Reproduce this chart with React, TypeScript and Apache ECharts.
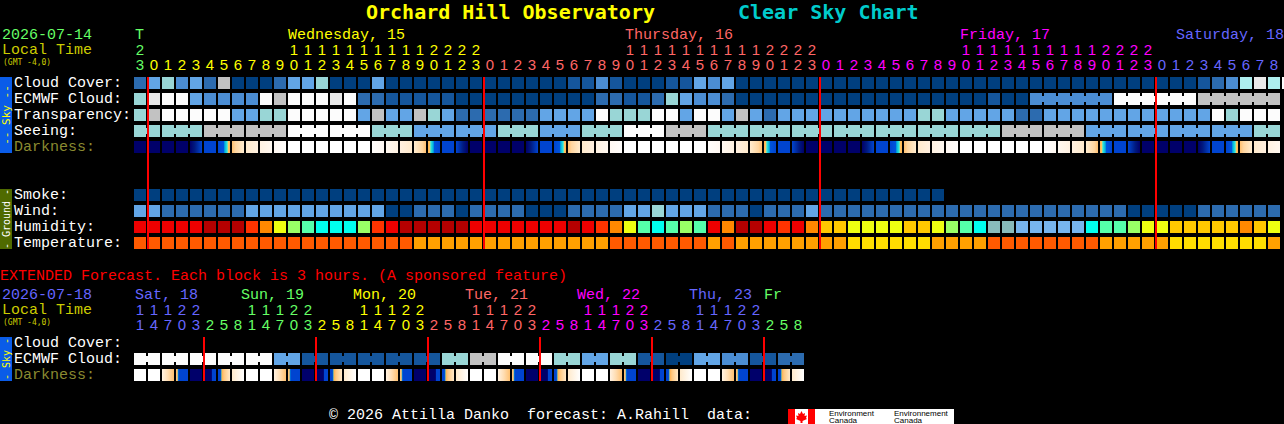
import React, { useEffect, useRef } from "react";
import * as echarts from "echarts";

const title = "Orchard Hill Observatory";
const subtitle = "Clear Sky Chart";
const footer = "© 2026 Attilla Danko  forecast: A.Rahill  data:";
const extendedNote = "EXTENDED Forecast. Each block is 3 hours. (A sponsored feature)";

const skyRows = ["Cloud Cover:", "ECMWF Cloud:", "Transparency:", "Seeing:", "Darkness:"];
const groundRows = ["Smoke:", "Wind:", "Humidity:", "Temperature:"];
const extendedRows = ["Cloud Cover:", "ECMWF Cloud:", "Darkness:"];

const hourOnes = ["3",
  "0","1","2","3","4","5","6","7","8","9","0","1","2","3","4","5","6","7","8","9","0","1","2","3",
  "0","1","2","3","4","5","6","7","8","9","0","1","2","3","4","5","6","7","8","9","0","1","2","3",
  "0","1","2","3","4","5","6","7","8","9","0","1","2","3","4","5","6","7","8","9","0","1","2","3",
  "0","1","2","3","4","5","6","7","8"];
const hourTens = ["2",
  "","","","","","","","","","","1","1","1","1","1","1","1","1","1","1","2","2","2","2",
  "","","","","","","","","","","1","1","1","1","1","1","1","1","1","1","2","2","2","2",
  "","","","","","","","","","","1","1","1","1","1","1","1","1","1","1","2","2","2","2",
  "","","","","","","","",""];
const hourDayColor = [0,
  1,1,1,1,1,1,1,1,1,1,1,1,1,1,1,1,1,1,1,1,1,1,1,1,
  2,2,2,2,2,2,2,2,2,2,2,2,2,2,2,2,2,2,2,2,2,2,2,2,
  3,3,3,3,3,3,3,3,3,3,3,3,3,3,3,3,3,3,3,3,3,3,3,3,
  4,4,4,4,4,4,4,4,4];

const extOnes = ["1","4","7","0","3","2","5","8","1","4","7","0","3","2","5","8","1","4","7","0","3","2","5","8",
  "1","4","7","0","3","2","5","8","1","4","7","0","3","2","5","8","1","4","7","0","3","2","5","8"];
const extTens = ["1","1","1","2","2","","","","1","1","1","2","2","","","","1","1","1","2","2","","","",
  "1","1","1","2","2","","","","1","1","1","2","2","","","","1","1","1","2","2","","",""];
const extDayColor = [4,4,4,4,4,0,0,0,0,0,0,0,0,1,1,1,1,1,1,1,1,2,2,2,2,2,2,2,2,3,3,3,3,3,3,3,3,4,4,4,4,4,4,4,4,0,0,0];

const dayPalette = ["#66ff66", "#ffff00", "#ff6666", "#ff00ff", "#6666ff"];

const mainDays = ["T", "Wednesday, 15", "Thursday, 16", "Friday, 17", "Saturday, 18"];
const extDays = ["Sat, 18", "Sun, 19", "Mon, 20", "Tue, 21", "Wed, 22", "Thu, 23", "Fr"];

// sky level per hour: 0 clear ... 9 overcast / best
const cloudCover = [2,4,5,3,4,2,7,0,0,0,2,4,4,5,0,0,0,4,0,0,0,
  0,0,0,0,0,0,0,0,0,0,1,1,3,1,0,0,0,1,1,4,3,4,
  0,0,0,0,0,0,0,0,0,0,0,0,0,0,0,0,0,0,0,0,0,0,0,0,0,0,0,0,0,0,0,0,
  0,1,2,3,6,8,6,9];
const ecmwfCloud = [5,8,9,9,4,3,3,3,3,9,7,9,9,9,8,9,2,2,1,1,1,1,1,
  0,0,0,0,0,0,0,0,0,0,2,2,1,1,2,5,4,3,3,2,
  0,0,0,0,0,0,0,0,0,0,0,0,0,0,0,0,0,0,1,0,0,
  3,3,3,3,3,3,9,9,9,9,9,9,7,7,7,7,7,7];
const transparency = [5,7,9,9,9,9,9,4,4,5,5,9,9,9,9,9,4,7,4,4,7,5,4,2,2,2,2,2,2,4,4,4,4,9,5,5,5,9,9,4,9,9,4,7,4,2,4,
  4,4,4,4,4,4,4,4,4,5,5,4,4,4,4,4,2,2,4,4,4,4,4,4,4,4,4,4,4,4,9,5,9,9,9];
const seeingBlocks = [5,5,7,7,9,9,5,4,4,5,4,5,9,7,5,5,5,5,5,5,5,7,7,4,4,4,4,5];
const seeingBlockHours = [2,3,3,3,3,3,3,3,3,3,3,3,3,3,3,3,3,3,3,3,3,3,3,3,3,3,3,2];
const darkness = ["n","n","n","n","u","b","t","o","k","l","m","w","w","w","w","w","w","M","L","K","O","T","b","U",
  "n","n","n","n","u","b","t","o","k","l","m","w","w","w","w","w","w","M","L","K","O","T","b","U",
  "n","n","n","n","u","b","t","o","k","l","m","w","w","w","w","w","w","M","L","K","O","T","b","U",
  "n","n","n","n","u","b","t","o","k","l"];
const smoke = new Array(58).fill(0);
const wind = [4,4,2,2,2,2,2,2,4,4,4,4,4,4,4,4,4,4,0,0,2,2,2,0,2,2,2,2,0,0,0,2,2,2,2,4,4,5,4,4,4,2,2,2,0,2,2,2,4,2,2,
  2,2,2,2,2,2,2,2,2,2,2,2,2,2,2,2,2,2,2,2,0,0,0,0,0,2,2,2,2,2,2];
const humidity = [1,1,1,1,1,0,0,0,2,3,5,6,7,8,8,8,6,2,1,0,0,0,0,0,1,1,1,1,1,1,1,0,1,2,3,5,7,8,7,6,7,1,3,0,0,1,2,1,3,4,4,
  5,5,5,5,4,4,5,6,7,8,9,9,10,10,10,10,10,8,7,7,6,5,5,4,4,4,4,4,3,4,5];
const temperature = [0,0,0,0,0,0,0,0,0,0,0,0,0,0,0,0,0,0,0,0,1,1,1,1,1,1,1,1,1,1,1,1,1,1,0,0,0,0,0,0,0,1,0,1,1,1,1,1,1,1,1,
  2,2,2,2,2,2,1,1,1,1,0,0,0,0,0,0,0,0,1,1,1,1,1,2,2,2,2,2,2,2,1];

const extEcmwfBlocks = [9,9,9,9,9,4,1,1,1,1,1,5,7,9,9,5,4,5,1,0,4,3,1,2];
const extDarkness = ["w","w","F","B","n","S","X","C","w","w","F","B","n","S","X","C","w","w","F","B","n","S","X","C",
  "w","w","F","B","n","S","X","C","w","w","F","B","n","S","X","C","w","w","F","B","n","S","X","C"];

const midnightCols = [1, 25, 49, 73];
const extMidnightCols = [5, 13, 21, 29, 37, 45];

const skyColors = ["#003f7f", "#15569c", "#2c6baf", "#4b8dd3", "#62a5e6", "#99d6d6", "#aeefef", "#c2c2c2", "#e9e9e9", "#fcfcfc"];
const humidityColors = ["#b50000", "#ee0000", "#ff3300", "#ff8800", "#ffc800", "#eeff11", "#99ff66", "#55ffaa", "#00ffee", "#88bbbb", "#77b5ee"];
const temperatureColors = ["#ff5a00", "#ffa000", "#ffdd00"];

const NAVY = "#00006a", BLUE = "#0044d0";
const darkStops: Record<string, [number, string][]> = {
  n: [[0, NAVY], [1, NAVY]],
  u: [[0, NAVY], [0.4, "#001a80"], [0.7, "#0030a8"], [1, BLUE]],
  b: [[0, BLUE], [1, BLUE]],
  t: [[0, BLUE], [0.5, "#0055dd"], [0.55, "#00aadd"], [0.78, "#33eedd"], [0.82, "#ffcc66"], [1, "#ffb050"]],
  o: [[0, "#ffc070"], [0.3, "#ffd6a0"], [1, "#ffeccf"]],
  k: [[0, "#ffeacc"], [1, "#fff0e0"]],
  l: [[0, "#fff2e2"], [1, "#fff8f0"]],
  m: [[0, "#fff8f2"], [1, "#fffdfb"]],
  w: [[0, "#ffffff"], [1, "#ffffff"]],
  F: [[0, "#fff2e2"], [0.5, "#ffdcb0"], [1, "#ffc070"]],
  B: [[0, "#ffc070"], [0.12, "#ffc070"], [0.14, "#00aadd"], [0.25, BLUE], [1, BLUE]],
  S: [[0, NAVY], [0.62, NAVY], [0.66, BLUE], [1, BLUE]],
  X: [[0, BLUE], [0.2, BLUE], [0.26, "#00aadd"], [0.32, "#ffb050"], [0.5, "#ffc880"], [1, "#ffe8c8"]],
  C: [[0, "#ffeacc"], [1, "#ffffff"]],
};
function darkFill(key: string) {
  const reversed = "UTOKLM".includes(key);
  const base = reversed ? darkStops[key.toLowerCase()] : darkStops[key];
  const stops = reversed ? base.map(([o, c]) => ({ offset: 1 - o, color: c })).reverse() : base.map(([o, c]) => ({ offset: o, color: c }));
  return new echarts.graphic.LinearGradient(0, 0, 1, 0, stops);
}

type Cell = { col: number; row: number; fill: any; bridge?: boolean };

function App() {
  const ref = useRef<HTMLDivElement>(null);
  useEffect(() => {
    document.body.style.margin = "0";
    document.body.style.background = "#000";
    document.body.style.overflow = "hidden";
    const chart = echarts.init(ref.current!, undefined, { renderer: "svg" });

    const MONO = "Liberation Mono";
    const HEAVY = "DejaVu Sans Mono";
    const DIGIT = "Liberation Sans";

    const topCells: Cell[] = [];
    cloudCover.forEach((v, i) => topCells.push({ col: i, row: 0, fill: skyColors[v] }));
    ecmwfCloud.forEach((v, i) => topCells.push({ col: i, row: 1, fill: skyColors[v], bridge: i >= 64 && i < 81 && ecmwfCloud[i + 1] === v }));
    transparency.forEach((v, i) => topCells.push({ col: i, row: 2, fill: skyColors[v] }));
    let c = 0;
    seeingBlocks.forEach((v, b) => {
      for (let k = 0; k < seeingBlockHours[b]; k++) {
        topCells.push({ col: c, row: 3, fill: skyColors[v], bridge: k < seeingBlockHours[b] - 1 });
        c++;
      }
    });
    darkness.forEach((v, i) => topCells.push({ col: i, row: 4, fill: darkFill(v) }));

    const groundCells: Cell[] = [];
    smoke.forEach((v, i) => groundCells.push({ col: i, row: 0, fill: skyColors[v] }));
    wind.forEach((v, i) => groundCells.push({ col: i, row: 1, fill: skyColors[v] }));
    humidity.forEach((v, i) => groundCells.push({ col: i, row: 2, fill: humidityColors[v] }));
    temperature.forEach((v, i) => groundCells.push({ col: i, row: 3, fill: temperatureColors[v] }));

    const extCells: Cell[] = [];
    extEcmwfBlocks.forEach((v, b) => {
      extCells.push({ col: b * 2, row: 1, fill: skyColors[v], bridge: true });
      extCells.push({ col: b * 2 + 1, row: 1, fill: skyColors[v] });
    });
    extDarkness.forEach((v, i) => extCells.push({ col: i, row: 2, fill: darkFill(v) }));

    const cellSeries = (cells: Cell[], idx: number) => ({
      type: "custom",
      coordinateSystem: "cartesian2d",
      xAxisIndex: idx,
      yAxisIndex: idx,
      clip: false,
      silent: true,
      encode: { x: 0, y: 1 },
      data: cells.map((d) => [d.col, d.row]),
      renderItem: (params: any, api: any) => {
        const d = cells[params.dataIndex];
        const [x, y] = api.coord([d.col, d.row]);
        const children: any[] = [
          { type: "rect", shape: { x: x - 6, y: y - 6, width: 12, height: 12 }, style: { fill: d.fill } },
        ];
        if (d.bridge) {
          children.push({ type: "rect", shape: { x: x + 6, y: y - 3, width: 2, height: 6 }, style: { fill: d.fill } });
        }
        return { type: "group", children };
      },
    });
    const redSeries = (cols: number[], xIdx: number, yIdx: number) => ({
      type: "custom",
      coordinateSystem: "cartesian2d",
      xAxisIndex: xIdx,
      yAxisIndex: yIdx,
      clip: false,
      silent: true,
      z: 10,
      encode: { x: 0, y: 1 },
      data: cols.map((col) => [col, 0]),
      renderItem: (_: any, api: any) => {
        const [x, y0] = api.coord([api.value(0), 0]);
        const [, y1] = api.coord([api.value(0), 1]);
        return { type: "rect", shape: { x: x - 7, y: y1, width: 2, height: y0 - y1 }, style: { fill: "#ff0000" } };
      },
    });

    const hidden = { show: false };
    const gridBase = { left: 133, outerBoundsMode: "none" };
    const xHours = (data: string[], gridIndex: number, offset: number, colors: number[]) => ({
      type: "category",
      gridIndex,
      position: "top",
      offset,
      data,
      axisLine: hidden,
      axisTick: hidden,
      splitLine: hidden,
      axisLabel: {
        show: true,
        interval: 0,
        margin: 3,
        fontFamily: DIGIT,
        fontSize: 15,
        color: (_: any, i: number) => dayPalette[colors[i]],
      },
    });
    const xPlain = (n: number, gridIndex: number) => ({
      type: "category",
      gridIndex,
      data: new Array(n).fill(""),
      show: false,
    });
    const yRows = (rows: string[], gridIndex: number) => ({
      type: "category",
      gridIndex,
      inverse: true,
      data: rows,
      axisLine: hidden,
      axisTick: hidden,
      splitLine: hidden,
      axisLabel: {
        show: true,
        interval: 0,
        align: "left",
        margin: 119,
        padding: [0, 0, 2, 0],
        fontFamily: MONO,
        fontSize: 15,
        color: (v: string) => (v === "Darkness:" ? "#8a8a30" : "#ffffff"),
      },
    });
    const yOverlay = (gridIndex: number) => ({ type: "value", gridIndex, min: 0, max: 1, show: false });

    const text = (t: string, x: number, y: number, fill: string, size = 15, extra: any = {}) => ({
      type: "text",
      x,
      y,
      silent: true,
      style: { text: t, fill, fontFamily: MONO, fontSize: size, lineHeight: Math.min(size, 14), verticalAlign: "middle", ...extra },
    });
    const vtext = (t: string, x: number, y: number, fill: string, size: number) => ({
      type: "text",
      x,
      y,
      rotation: Math.PI / 2,
      silent: true,
      style: { text: t, fill, fontFamily: HEAVY, fontSize: size, align: "center", verticalAlign: "middle" },
    });
    const box = (x: number, y: number, w: number, h: number, fill: string) => ({
      type: "rect",
      silent: true,
      shape: { x, y, width: w, height: h },
      style: { fill },
    });
    const leaf = [[801.5,411],[803,414],[805,413],[804.5,416],[807,415.5],[806,418],[807,419],[802.5,421],[802.5,423],[800.5,423],[800.5,421],[796,419],[797,418],[796,415.5],[798.5,416],[798,413],[800,414]];

    chart.setOption({
      animation: false,
      backgroundColor: "#000000",
      grid: [
        { ...gridBase, top: 75, width: 1148, height: 80 },
        { ...gridBase, top: 187, width: 1148, height: 64 },
        { ...gridBase, top: 335, width: 672, height: 48 },
        { ...gridBase, top: 77, width: 1148, height: 172 },
        { ...gridBase, top: 337, width: 672, height: 44 },
      ],
      xAxis: [
        xHours(hourOnes, 0, 0, hourDayColor),
        xPlain(82, 1),
        xHours(extOnes, 2, 0, extDayColor),
        xPlain(82, 3),
        xPlain(48, 4),
        xHours(hourTens, 0, 15, hourDayColor),
        xHours(extTens, 2, 15, extDayColor),
      ],
      yAxis: [yRows(skyRows, 0), yRows(groundRows, 1), yRows(extendedRows, 2), yOverlay(3), yOverlay(4)],
      series: [
        cellSeries(topCells, 0),
        cellSeries(groundCells, 1),
        cellSeries(extCells, 2),
        redSeries(midnightCols, 3, 3),
        redSeries(extMidnightCols, 4, 4),
      ],
      graphic: [
        text(title, 366, 12, "#ffff00", 20, { fontWeight: "bold", fontFamily: HEAVY }),
        text(subtitle, 738, 12, "#00cccc", 20, { fontWeight: "bold", fontFamily: HEAVY }),
        text("2026-07-14", 2, 35, dayPalette[0]),
        text("Local Time", 2, 50, "#cccc00"),
        text("(GMT -4,0)", 3, 62, "#cccc00", 8, { fontFamily: HEAVY }),
        text(mainDays[0], 135, 35, dayPalette[0]),
        text(mainDays[1], 288, 35, dayPalette[1]),
        text(mainDays[2], 625, 35, dayPalette[2]),
        text(mainDays[3], 960, 35, dayPalette[3]),
        text(mainDays[4], 1176, 35, dayPalette[4]),
        text(extendedNote, 0, 276, "#ff0000"),
        text("2026-07-18", 2, 295, dayPalette[4]),
        text("Local Time", 2, 310, "#cccc00"),
        text("(GMT -4,0)", 3, 322, "#cccc00", 8, { fontFamily: HEAVY }),
        text(extDays[0], 135, 295, dayPalette[4]),
        text(extDays[1], 241, 295, dayPalette[0]),
        text(extDays[2], 353, 295, dayPalette[1]),
        text(extDays[3], 465, 295, dayPalette[2]),
        text(extDays[4], 577, 295, dayPalette[3]),
        text(extDays[5], 689, 295, dayPalette[4]),
        text(extDays[6], 764, 295, dayPalette[0]),
        box(0, 77, 12, 76, "#0a5ce8"),
        vtext("-- Sky --", 6, 115, "#ffff00", 11),
        box(0, 189, 12, 60, "#4f6a00"),
        vtext("- Ground -", 6, 219, "#ffffff", 10),
        box(0, 337, 12, 44, "#0a5ce8"),
        vtext("- Sky -", 6, 359, "#ffff00", 10),
        text(footer, 329, 415, "#ffffff"),
        box(788, 409, 166, 15, "#ffffff"),
        box(788, 409, 7, 15, "#ff0000"),
        box(808, 409, 7, 15, "#ff0000"),
        { type: "polygon", silent: true, shape: { points: leaf }, style: { fill: "#ff0000" } },
        text("Environment", 829, 413, "#000000", 8, { fontFamily: DIGIT }),
        text("Canada", 829, 420, "#000000", 8, { fontFamily: DIGIT }),
        text("Environnement", 894, 413, "#000000", 8, { fontFamily: DIGIT }),
        text("Canada", 894, 420, "#000000", 8, { fontFamily: DIGIT }),
      ],
    });
    return () => chart.dispose();
  }, []);
  return <div ref={ref} style={{ width: 1284, height: 424 }} />;
}

export default App;
